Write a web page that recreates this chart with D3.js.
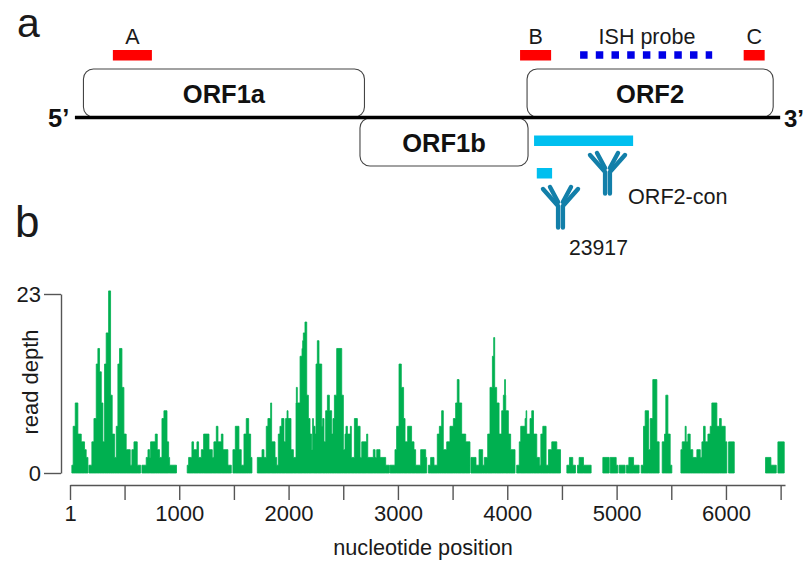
<!DOCTYPE html>
<html>
<head>
<meta charset="utf-8">
<script src="https://cdn.jsdelivr.net/npm/d3@7"></script>
<style>
  html, body { margin: 0; background: #fff; }
  text { font-family: "Liberation Sans", Arial, sans-serif; fill: #1a1a1a; }
  .bold { font-weight: bold; fill: #111; }
  .axis path, .axis line { stroke: #555; stroke-width: 1.4; }
  .axis text { font-size: 22px; fill: #1a1a1a; font-family: "Liberation Sans", Arial, sans-serif; }
</style>
</head>
<body>
<div id="chart-area"></div>
<script>
// [start position, read depth] - depth holds until the next start
const depthSteps = [
  [18,1],[30,6],[49,9],[73,5],[104,4],[134,3],[149,2],[165,0],[174,1],[201,4],
  [220,7],[241,14],[256,16],[271,13],[287,9],[302,4],[317,14],[332,18],[354,23.4],[372,10],
  [387,5],[409,2],[424,6],[439,14],[454,16],[476,11],[494,5],[515,3],[552,1],[567,3],
  [586,4],[616,1],[647,0],[659,1],[698,2],[714,3],[729,2],[738,4],[781,5],[799,3],
  [820,2],[842,7],[860,8],[888,4],[903,2],[912,1],[975,0],[1073,1],[1086,2],[1116,4],
  [1131,3],[1162,4],[1177,2],[1202,3],[1223,5],[1272,3],[1302,2],[1317,4],[1339,6],[1354,4],
  [1385,5],[1400,3],[1445,1],[1476,0],[1491,3],[1513,6],[1546,3],[1567,1],[1592,5],[1613,7],
  [1635,5],[1653,2],[1665,0],[1714,2],[1757,3],[1775,2],[1796,6],[1811,7],[1836,9],[1845,4],
  [1876,2],[1891,1],[1906,5],[1921,6],[1937,7],[1958,4],[1973,7],[1986,8],[1995,7],[2022,3],
  [2044,2],[2068,9],[2071,11],[2080,9],[2105,15],[2123,16],[2129,17],[2135,18],[2150,19.4],[2166,10],
  [2181,7],[2196,5],[2211,3],[2220,7],[2227,6],[2242,5],[2251,14],[2263,17],[2278,14],[2303,6],
  [2312,7],[2324,4],[2339,8],[2355,10],[2373,8],[2394,5],[2406,7],[2419,10],[2440,16],[2486,10],
  [2501,3],[2516,5],[2525,6],[2538,5],[2565,6],[2574,2],[2602,7],[2629,6],[2654,2],[2669,4],
  [2714,5],[2724,2],[2775,3],[2791,2],[2806,3],[2836,2],[2888,1],[2922,0],[2928,1],[2973,3],
  [2988,6],[3010,14],[3031,11],[3052,7],[3065,4],[3089,6],[3125,4],[3147,3],[3162,1],[3208,3],
  [3254,2],[3263,0],[3278,1],[3299,2],[3330,1],[3360,5],[3379,6],[3400,8],[3415,3],[3446,4],
  [3476,6],[3507,7],[3528,9],[3543,12],[3559,9],[3583,5],[3620,4],[3659,0],[3668,2],[3714,1],
  [3742,3],[3775,1],[3790,2],[3821,5],[3842,11],[3864,15],[3876,17.4],[3885,11],[3903,9],[3925,5],
  [3949,8],[3964,10],[3976,12],[3983,10],[3986,8],[4010,5],[4031,3],[4071,0],[4086,1],[4110,4],
  [4123,6],[4163,7],[4172,8],[4178,5],[4208,7],[4224,8],[4240,5],[4270,2],[4294,1],[4307,5],
  [4325,6],[4355,1],[4377,3],[4407,4],[4453,3],[4487,0],[4545,1],[4569,2],[4599,1],[4624,0],
  [4642,1],[4657,2],[4697,1],[4767,0],[4874,2],[4932,0],[4941,2],[4996,1],[5011,0],[5023,1],
  [5078,0],[5090,1],[5112,2],[5155,1],[5206,0],[5225,1],[5246,6],[5261,8],[5292,3],[5307,7],
  [5331,12],[5368,4],[5389,0],[5417,4],[5438,5],[5450,10],[5469,5],[5490,1],[5505,0],[5588,3],
  [5600,4],[5627,6],[5636,4],[5652,5],[5673,3],[5697,2],[5734,3],[5765,2],[5780,4],[5795,6],
  [5810,4],[5835,5],[5856,6],[5871,9],[5917,6],[5941,7],[5957,6],[5993,4],[6008,0],[6024,4],
  [6076,0],[6362,2],[6411,1],[6460,0],[6475,4],[6533,0]
];

const xTicks = [1, 500, 1000, 1500, 2000, 2500, 3000, 3500, 4000, 4500, 5000, 5500, 6000, 6500];
const xLabels = [1, 1000, 2000, 3000, 4000, 5000, 6000];
const yTicks = [0, 23];

// genome map, same nucleotide coordinates as the coverage plot
const genome = [46, 6496];
const orfsTop = [{ name: "ORF1a", span: [124, 2694] }, { name: "ORF2", span: [4181, 6432] }];
const orfsBottom = [{ name: "ORF1b", span: [2653, 4190] }];
const primers = [
  { name: "A", span: [393, 750] },
  { name: "B", span: [4117, 4401] },
  { name: "C", span: [6162, 6354] }
];
const ishProbe = { name: "ISH probe", span: [4666, 5874] };
const epitopes = [[4245, 5151], [4270, 4410]];

const chartSize = { width: 805, height: 561 };
const plot = { top: 294, bottom: 473, axisY: 485, left: 70, right: 785, yAxisX: 61 };
const lineY = 117.5;

const x = d3.scaleLinear().domain([1, 6540]).range([plot.left, plot.right]);
const y = d3.scaleLinear().domain([0, 23]).range([plot.bottom, plot.top]);

const svg = d3
  .select("#chart-area")
  .append("svg")
  .attr("width", chartSize.width)
  .attr("height", chartSize.height)
  .style("display", "block");

const addText = (label, px, py, size, anchor = "middle", cls = "") =>
  svg
    .append("text")
    .attr("class", cls)
    .attr("x", px)
    .attr("y", py)
    .attr("font-size", size)
    .attr("text-anchor", anchor)
    .text(label);

const drawMap = () => {
  addText("a", 17, 37, 41, "start");
  addText("b", 15, 237, 44, "start");

  const orfBox = (orfs, top, baseline) => {
    orfs.forEach(orf => {
      svg
        .append("rect")
        .attr("x", x(orf.span[0]))
        .attr("y", top)
        .attr("width", x(orf.span[1]) - x(orf.span[0]))
        .attr("height", 48)
        .attr("rx", 10)
        .attr("fill", "#fff")
        .attr("stroke", "#444")
        .attr("stroke-width", 1.1);
      addText(orf.name, (x(orf.span[0]) + x(orf.span[1])) / 2, baseline, 25.5, "middle", "bold");
    });
  };
  orfBox(orfsBottom, 118, 152);
  orfBox(orfsTop, 69, 103);

  svg
    .append("line")
    .attr("x1", x(genome[0]))
    .attr("x2", x(genome[1]))
    .attr("y1", lineY)
    .attr("y2", lineY)
    .attr("stroke", "#000")
    .attr("stroke-width", 3.6);
  addText("5’", 48, 127, 25.5, "start", "bold");
  addText("3’", 784, 127, 24, "start", "bold");

  primers.forEach(p => {
    svg
      .append("rect")
      .attr("x", x(p.span[0]))
      .attr("y", 50)
      .attr("width", x(p.span[1]) - x(p.span[0]))
      .attr("height", 10.5)
      .attr("fill", "#f00");
    addText(p.name, (x(p.span[0]) + x(p.span[1])) / 2, 44, 21.5);
  });

  svg
    .append("line")
    .attr("x1", x(ishProbe.span[0]))
    .attr("x2", x(ishProbe.span[1]))
    .attr("y1", 55)
    .attr("y2", 55)
    .attr("stroke", "#0000e6")
    .attr("stroke-width", 7.5)
    .attr("stroke-dasharray", "7.5 8.2");
  addText(ishProbe.name, 647, 44, 21.5);

  svg
    .selectAll(".epitope")
    .data(epitopes)
    .join("rect")
    .attr("class", "epitope")
    .attr("x", d => x(d[0]))
    .attr("y", (d, i) => (i === 0 ? 135.5 : 168))
    .attr("width", d => x(d[1]) - x(d[0]))
    .attr("height", 10.5)
    .attr("fill", "#00bfef");

  drawAntibody(607.5, 0);
  drawAntibody(560.5, 34);
  addText("ORF2-con", 628, 204, 21.6, "start");
  addText("23917", 569, 255, 21.2, "start");
};

// Y glyph: doubled stem and two doubled arms
const drawAntibody = (cx, dy) => {
  const g = svg
    .append("g")
    .attr("transform", `translate(${cx},${dy})`)
    .attr("fill", "none")
    .attr("stroke", "#127fa9")
    .attr("stroke-width", 4.4)
    .attr("stroke-linecap", "round")
    .attr("stroke-linejoin", "round");
  const arm = d3.line();
  [-1, 1].forEach(side => {
    g.append("path").attr("d", arm([[side * 2.4, 193.5], [side * 2.4, 172], [side * 17.5, 155]]));
    g.append("path").attr("d", arm([[side * 2.4, 168], [side * 10.5, 153]]));
  });
};

// covered stretches, each closed by its zero-depth step
const coveredRuns = steps => {
  const runs = [];
  let run = [];
  steps.forEach(step => {
    run.push(step);
    if (step[1] === 0) {
      runs.push(run);
      run = [];
    }
  });
  return runs;
};

const drawCoverage = () => {
  const area = d3
    .area()
    .curve(d3.curveStepAfter)
    .x(d => x(d[0]))
    .y0(y(0))
    .y1(d => y(d[1]));

  // thin stroke of the same green, the source image is slightly soft
  svg
    .selectAll(".coverage")
    .data(coveredRuns(depthSteps))
    .join("path")
    .attr("class", "coverage")
    .attr("fill", "#00b050")
    .attr("stroke", "#00b050")
    .attr("stroke-width", 0.8)
    .attr("d", area);

  const xAxis = d3
    .axisBottom(x)
    .tickValues(xTicks)
    .tickSize(15)
    .tickSizeOuter(0)
    .tickPadding(5)
    .tickFormat(d => (xLabels.includes(d) ? d : ""));
  svg
    .append("g")
    .attr("class", "axis")
    .attr("transform", `translate(0,${plot.axisY})`)
    .call(xAxis);

  const yAxis = d3
    .axisLeft(y)
    .tickValues(yTicks)
    .tickSize(17)
    .tickSizeOuter(0)
    .tickPadding(3);
  svg
    .append("g")
    .attr("class", "axis")
    .attr("transform", `translate(${plot.yAxisX},0)`)
    .call(yAxis);

  addText("nucleotide position", 423, 555, 21.7);
  svg
    .append("text")
    .attr("transform", "translate(38,382) rotate(-90)")
    .attr("font-size", 22)
    .attr("text-anchor", "middle")
    .text("read depth");
};

drawMap();
drawCoverage();
</script>
</body>
</html>
